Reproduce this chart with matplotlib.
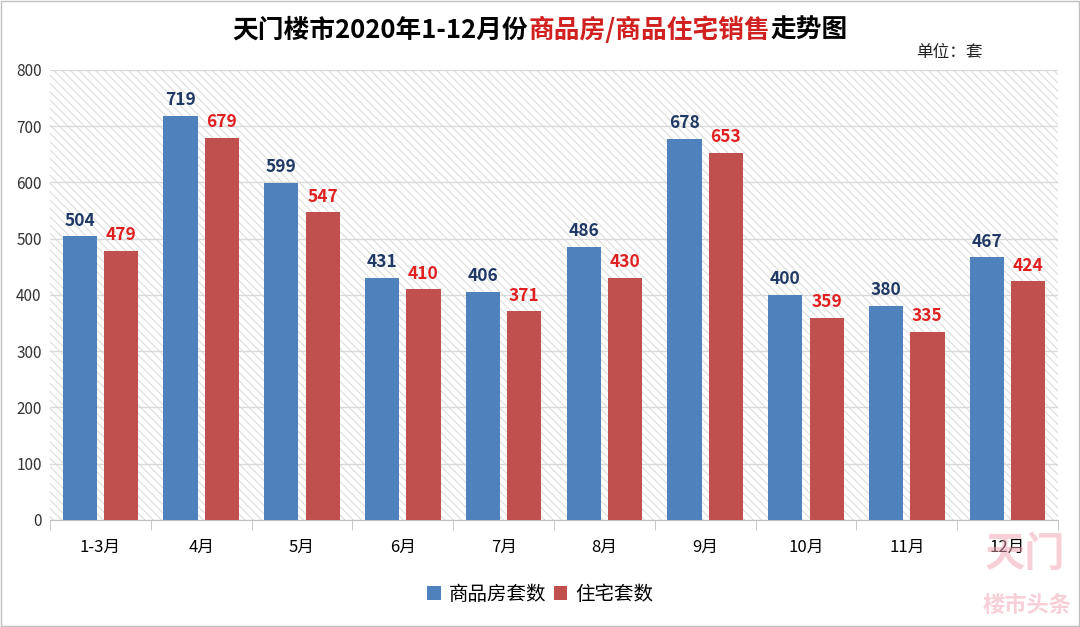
import numpy as np
import matplotlib.pyplot as plt
from matplotlib.patches import Rectangle

plt.rcParams['font.family'] = ['Noto Sans CJK SC', 'DejaVu Sans']
plt.rcParams['hatch.linewidth'] = 0.8

months = ['1-3月', '4月', '5月', '6月', '7月', '8月', '9月', '10月', '11月', '12月']
commercial = [504, 719, 599, 431, 406, 486, 678, 400, 380, 467]
residential = [479, 679, 547, 410, 371, 430, 653, 359, 335, 424]
yticks = [0, 100, 200, 300, 400, 500, 600, 700, 800]

blue = '#4F81BD'
red = '#C0504D'

fig = plt.figure(figsize=(10.8, 6.27), dpi=100)
ax = fig.add_axes([0.0463, 0.1707, 0.9333, 0.7177])

# hatched plot area
ax.add_patch(Rectangle((0, 0), 1, 1, transform=ax.transAxes, facecolor='white',
                       edgecolor='#dcdcdc', linewidth=0, hatch='\\\\\\\\', zorder=0))

x = np.arange(len(months))
w = 0.34
b1 = ax.bar(x - w / 2 - 0.035, commercial, w, color=blue, zorder=3, label='商品房套数')
b2 = ax.bar(x + w / 2 + 0.035, residential, w, color=red, zorder=3, label='住宅套数')

for xi, v in zip(x - w / 2 - 0.035, commercial):
    ax.text(xi, v + 12, str(v), ha='center', va='bottom', fontsize=12.5,
            fontweight='bold', color='#1F3864', zorder=4)
for xi, v in zip(x + w / 2 + 0.035, residential):
    ax.text(xi, v + 12, str(v), ha='center', va='bottom', fontsize=12.5,
            fontweight='bold', color='#E02020', zorder=4)

ax.set_xlim(-0.5, len(months) - 0.5)
ax.set_ylim(0, 800)
ax.set_yticks(yticks)
ax.yaxis.grid(True, color='#d9d9d9', linewidth=1, zorder=1)
ax.set_axisbelow(True)
ax.tick_params(axis='y', length=0, labelsize=11, colors='#333333', pad=6)
ax.set_xticks(x)
ax.set_xticklabels(months, fontsize=12)
ax.tick_params(axis='x', length=0, pad=14)
ax.set_xticks(np.arange(-0.5, len(months)), minor=True)
ax.tick_params(axis='x', which='minor', length=7, color='#bfbfbf')
for s in ['top', 'right', 'left']:
    ax.spines[s].set_visible(False)
ax.spines['bottom'].set_color('#bfbfbf')

# legend
leg = fig.legend(handles=[b1, b2], loc='center', bbox_to_anchor=(0.5, 0.052), ncol=2,
                 frameon=False, fontsize=14, handlelength=0.7, handleheight=0.7,
                 columnspacing=0.4, handletextpad=0.4)

# title with coloured segments
parts = [('天门楼市2020年1-12月份', 'black'), ('商品房/商品住宅销售', '#D02020'), ('走势图', 'black')]
renderer = fig.canvas.get_renderer()
texts = []
for s, c in parts:
    t = fig.text(0, 0.952, s, fontsize=18.5, fontweight='bold', color=c, va='center')
    texts.append(t)
widths = [t.get_window_extent(renderer).width / fig.bbox.width for t in texts]
start = 0.5 - sum(widths) / 2
for t, wd in zip(texts, widths):
    t.set_x(start)
    start += wd

fig.text(0.848, 0.917, '单位：套', fontsize=12, va='center', color='#222222')

# watermark
fig.text(0.912, 0.115, '天门', fontsize=29, fontweight='bold', color='#f0a0b0', alpha=0.5, va='center')
fig.text(0.91, 0.035, '楼市头条', fontsize=16, fontweight='bold', color='#f0a0b0', alpha=0.5, va='center')

fig.add_artist(Rectangle((0.001, 0.001), 0.998, 0.998, transform=fig.transFigure,
                         fill=False, edgecolor='#bfbfbf', linewidth=1))

fig.savefig('out.png', dpi=100)
